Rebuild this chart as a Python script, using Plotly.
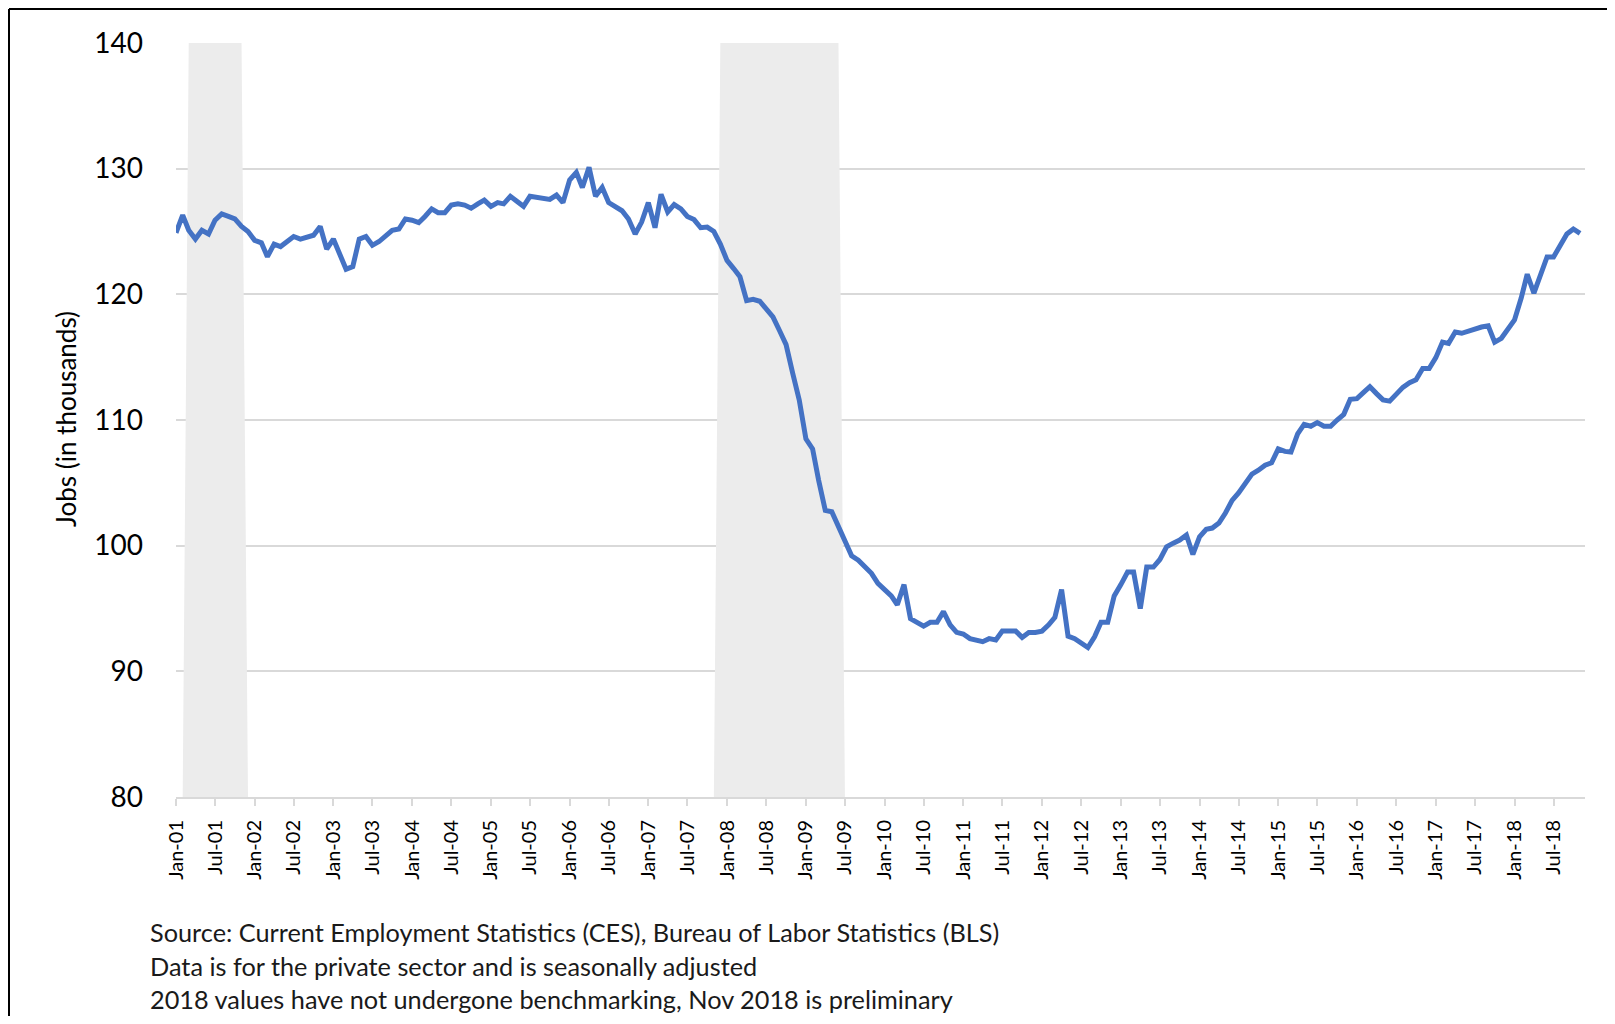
import pandas as pd
import plotly.graph_objects as go

# Private sector jobs (thousands), monthly, Jan 2001 - Nov 2018
months = pd.date_range("2001-01-01", "2018-11-01", freq="MS")

jobs = [
    124.9, 126.3, 125.1, 124.4, 125.1, 124.8, 125.9, 126.4, 126.2, 126.0, 125.4, 125.0,   # 2001
    124.3, 124.1, 123.0, 124.0, 123.8, 124.2, 124.6, 124.4, 124.6, 124.7, 125.4, 123.6,   # 2002
    124.4, 123.2, 122.0, 122.2, 124.4, 124.6, 123.9, 124.2, 124.6, 125.1, 125.2, 126.0,   # 2003
    125.9, 125.7, 126.2, 126.8, 126.5, 126.5, 127.1, 127.2, 127.1, 126.85, 127.2, 127.5,  # 2004
    127.0, 127.3, 127.2, 127.8, 127.4, 127.0, 127.8, 127.7, 127.7, 127.55, 127.9, 127.3,  # 2005
    129.1, 129.7, 128.5, 130.1, 127.8, 128.5, 127.3, 127.0, 126.65, 126.0, 124.8, 125.75, # 2006
    127.3, 125.3, 127.96, 126.56, 127.14, 126.8, 126.2, 125.95, 125.3, 125.35, 125.0, 124.0,  # 2007
    122.7, 122.05, 121.4, 119.5, 119.6, 119.45, 118.9, 118.2, 117.1, 116.0, 113.7, 111.6,  # 2008
    108.5, 107.7, 105.2, 102.8, 102.7, 101.5, 100.4, 99.2, 98.85, 98.3, 97.8, 97.0,       # 2009
    96.5, 96.0, 95.3, 96.9, 94.2, 93.9, 93.6, 93.9, 93.9, 94.75, 93.7, 93.1,             # 2010
    92.97, 92.6, 92.45, 92.36, 92.6, 92.5, 93.2, 93.2, 93.2, 92.7, 93.1, 93.1,           # 2011
    93.2, 93.7, 94.3, 96.5, 92.8, 92.6, 92.2, 91.9, 92.75, 93.9, 93.9, 96.0,             # 2012
    96.9, 97.9, 97.9, 95.0, 98.3, 98.3, 98.9, 99.9, 100.2, 100.45, 100.85, 99.3,         # 2013
    100.7, 101.3, 101.4, 101.8, 102.6, 103.6, 104.2, 104.9, 105.7, 106.0, 106.4, 106.6,  # 2014
    107.7, 107.5, 107.45, 108.9, 109.65, 109.5, 109.8, 109.5, 109.5, 110.0, 110.45, 111.65,  # 2015
    111.7, 112.2, 112.65, 112.1, 111.6, 111.5, 112.05, 112.6, 112.97, 113.2, 114.1, 114.1,  # 2016
    114.96, 116.2, 116.1, 117.0, 116.9, 117.1, 117.3, 117.4, 117.5, 116.2, 116.5, 117.2,  # 2017
    117.96, 119.7, 121.6, 120.1, 121.6, 122.97, 122.97, 123.85, 124.8, 125.2, 124.85,    # 2018
]

# NBER recessions (first and last month)
recessions = [("2001-03-01", "2001-11-01"), ("2007-12-01", "2009-06-01")]

footnotes = [
    "Source: Current Employment Statistics (CES), Bureau of Labor Statistics (BLS)",
    "Data is for the private sector and is seasonally adjusted",
    "2018 values have not undergone benchmarking, Nov 2018 is preliminary",
]

# recession band: top of axis during recession months, bottom otherwise
shade = []
for m in months:
    inside = any(pd.Timestamp(a) <= m <= pd.Timestamp(b) for a, b in recessions)
    shade.append(140 if inside else 80)

# page has an 8px body margin, so the figure is a bit smaller than the window
W, H = 1607, 1008
L, R, T, B = 168, 30, 35, 219
PW, PH = W - L - R, H - T - B


def px_x(p):
    return (p - L) / PW


def px_y(p):
    return (H - B - p) / PH


FONT = "Lato, 'Open Sans', sans-serif"

fig = go.Figure()

fig.add_trace(go.Scatter(x=months, y=shade, mode="lines", line=dict(width=0),
                         fill="tozeroy", fillcolor="#ececec", hoverinfo="skip",
                         showlegend=False))
fig.add_trace(go.Scatter(x=months, y=jobs, mode="lines",
                         line=dict(color="#4472C4", width=5),
                         showlegend=False))

fig.update_xaxes(type="date", range=["2001-01-01", "2018-11-24"],
                 tick0="2001-01-01", dtick="M6", tickformat="%b-%y",
                 tickangle=-90, tickfont=dict(family=FONT, size=20, color="#000000"),
                 ticks="outside", ticklen=7, tickwidth=2, tickcolor="#d9d9d9",
                 showline=True, linecolor="#d9d9d9", linewidth=2,
                 showgrid=False, zeroline=False, ticklabelstandoff=6)
fig.update_yaxes(range=[80, 140], dtick=10,
                 tickfont=dict(family=FONT, size=28, color="#000000"),
                 showgrid=True, gridcolor="#d9d9d9", gridwidth=2,
                 zeroline=False, showline=False, ticks="", ticklabelstandoff=32)

annotations = [dict(text="Jobs (in thousands)", textangle=-90, x=px_x(58), y=px_y(411),
                    xref="paper", yref="paper", showarrow=False,
                    xanchor="center", yanchor="middle",
                    font=dict(family=FONT, size=26, color="#000000"))]
for k, line in enumerate(footnotes):
    annotations.append(dict(text=line, x=px_x(140), y=px_y(924 + 33.5 * k),
                            xref="paper", yref="paper", showarrow=False,
                            xanchor="left", yanchor="middle",
                            font=dict(family=FONT, size=25.3, color="#1a1a1a")))

shapes = [
    dict(type="line", xref="paper", yref="paper", x0=px_x(1), x1=px_x(W), y0=px_y(1), y1=px_y(1),
         line=dict(color="#000000", width=2)),
    dict(type="line", xref="paper", yref="paper", x0=px_x(1), x1=px_x(1), y0=px_y(1), y1=px_y(H),
         line=dict(color="#000000", width=2)),
]

fig.update_layout(width=W, height=H, margin=dict(l=L, r=R, t=T, b=B),
                  paper_bgcolor="white", plot_bgcolor="white",
                  annotations=annotations, shapes=shapes, hovermode="x")

fig.write_html("out.html")
